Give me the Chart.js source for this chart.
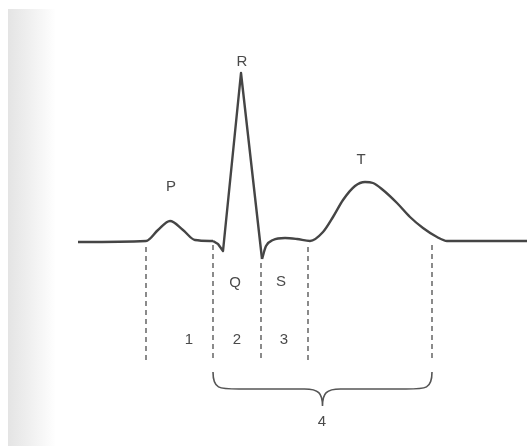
<!DOCTYPE html>
<html><head><meta charset="utf-8">
<script src="https://cdn.jsdelivr.net/npm/chart.js@4/dist/chart.umd.min.js"></script>
<style>
html,body{margin:0;padding:0;background:#fff;}
#wrap{position:relative;width:527px;height:446px;overflow:hidden;}
#shade{position:absolute;left:8px;top:9px;width:48px;height:437px;background:linear-gradient(to right,#e4e4e4,#ededed 35%,#f8f8f8 75%,#fff);}
#c{position:absolute;left:0;top:0;}
</style></head><body>
<div id="wrap"><div id="shade"></div><canvas id="c" width="527" height="446"></canvas></div>
<script>
const pWaveTime = [0, 136, 160, 184, 210, 234, 270];
const pWaveAmp  = [0, 0.01, 0.12, 0.21, 0.12, 0.02, 0.01];
const qrsTime = [270, 280, 290, 326, 368];
const qrsAmp  = [0.01, -0.02, -0.09, 1.69, -0.17];
const stTTime = [368, 376, 390, 414, 438, 464, 490, 510, 530, 554, 574, 590, 610, 638, 664, 690, 718, 738, 898];
const stTAmp  = [-0.17, -0.04, 0.02, 0.04, 0.03, 0.01, 0.10, 0.25, 0.42, 0.56, 0.60, 0.59, 0.52, 0.39, 0.25, 0.14, 0.05, 0.01, 0.01];
const boundaryTime = [136, 270, 366, 460, 708];
const boundaryTop = [-0.05, -0.03, -0.21, -0.05, -0.03];
const boundaryBottom = [-1.18, -1.20, -1.18, -1.18, -1.17];
const waveLabels = ['P', 'R', 'T', 'Q', 'S'];
const waveLabelTime = [186, 328, 566, 314, 406];
const waveLabelAmp = [0.55, 1.80, 0.82, -0.41, -0.40];
const intervalLabels = ['1', '2', '3', '4'];
const intervalLabelTime = [222, 318, 412, 488];
const intervalLabelAmp = [-0.98, -0.98, -0.98, -1.80];
const braceTime = [270, 708];
const braceAmp = [-1.30, -1.47, -1.64];
const xRange = [-156, 898];
const yRange = [-2.04, 2.42];

const pts = (xs, ys) => xs.map((x, i) => ({x, y: ys[i]}));
const traceStyle = {showLine: true, pointRadius: 0, borderColor: '#454545', borderWidth: 2.4, fill: false, borderJoinStyle: 'round'};

const datasets = [
  Object.assign({data: pts(pWaveTime, pWaveAmp), cubicInterpolationMode: 'monotone'}, traceStyle),
  Object.assign({data: pts(qrsTime, qrsAmp), tension: 0}, traceStyle),
  Object.assign({data: pts(stTTime, stTAmp), cubicInterpolationMode: 'monotone'}, traceStyle)
];
boundaryTime.forEach((t, i) => {
  datasets.push({data: [{x: t, y: boundaryTop[i]}, {x: t, y: boundaryBottom[i]}], showLine: true,
    pointRadius: 0, borderColor: '#5a5a5a', borderWidth: 1.4, borderDash: [5, 4]});
});

const annot = {
  id: 'annot',
  afterDatasetsDraw(chart) {
    const {ctx, scales: {x, y}} = chart;
    ctx.save();
    // brace
    const x1 = x.getPixelForValue(braceTime[0]), x2 = x.getPixelForValue(braceTime[1]);
    const xm = (x1 + x2) / 2;
    const yt = y.getPixelForValue(braceAmp[0]), yh = y.getPixelForValue(braceAmp[1]), yp = y.getPixelForValue(braceAmp[2]);
    ctx.strokeStyle = '#555'; ctx.lineWidth = 1.6;
    ctx.beginPath();
    ctx.moveTo(x1, yt);
    ctx.bezierCurveTo(x1, yh, x1 + 6, yh, x1 + 26, yh);
    ctx.lineTo(xm - 18, yh);
    ctx.bezierCurveTo(xm - 4, yh, xm, yh + 4, xm, yp);
    ctx.bezierCurveTo(xm, yh + 4, xm + 4, yh, xm + 18, yh);
    ctx.lineTo(x2 - 26, yh);
    ctx.bezierCurveTo(x2 - 6, yh, x2, yh, x2, yt);
    ctx.stroke();
    // labels
    ctx.fillStyle = '#4a4a4a';
    ctx.font = '15px "Liberation Sans", Arial, sans-serif';
    ctx.textAlign = 'center'; ctx.textBaseline = 'middle';
    waveLabels.forEach((s, i) => ctx.fillText(s, x.getPixelForValue(waveLabelTime[i]), y.getPixelForValue(waveLabelAmp[i])));
    intervalLabels.forEach((s, i) => ctx.fillText(s, x.getPixelForValue(intervalLabelTime[i]), y.getPixelForValue(intervalLabelAmp[i])));
    ctx.restore();
  }
};

new Chart(document.getElementById('c'), {
  type: 'scatter',
  data: {datasets},
  options: {
    responsive: false, animation: false,
    layout: {padding: 0},
    plugins: {legend: {display: false}, tooltip: {enabled: false}},
    scales: {
      x: {type: 'linear', display: false, min: xRange[0], max: xRange[1]},
      y: {type: 'linear', display: false, min: yRange[0], max: yRange[1]}
    }
  },
  plugins: [annot]
});
</script>
</body></html>
